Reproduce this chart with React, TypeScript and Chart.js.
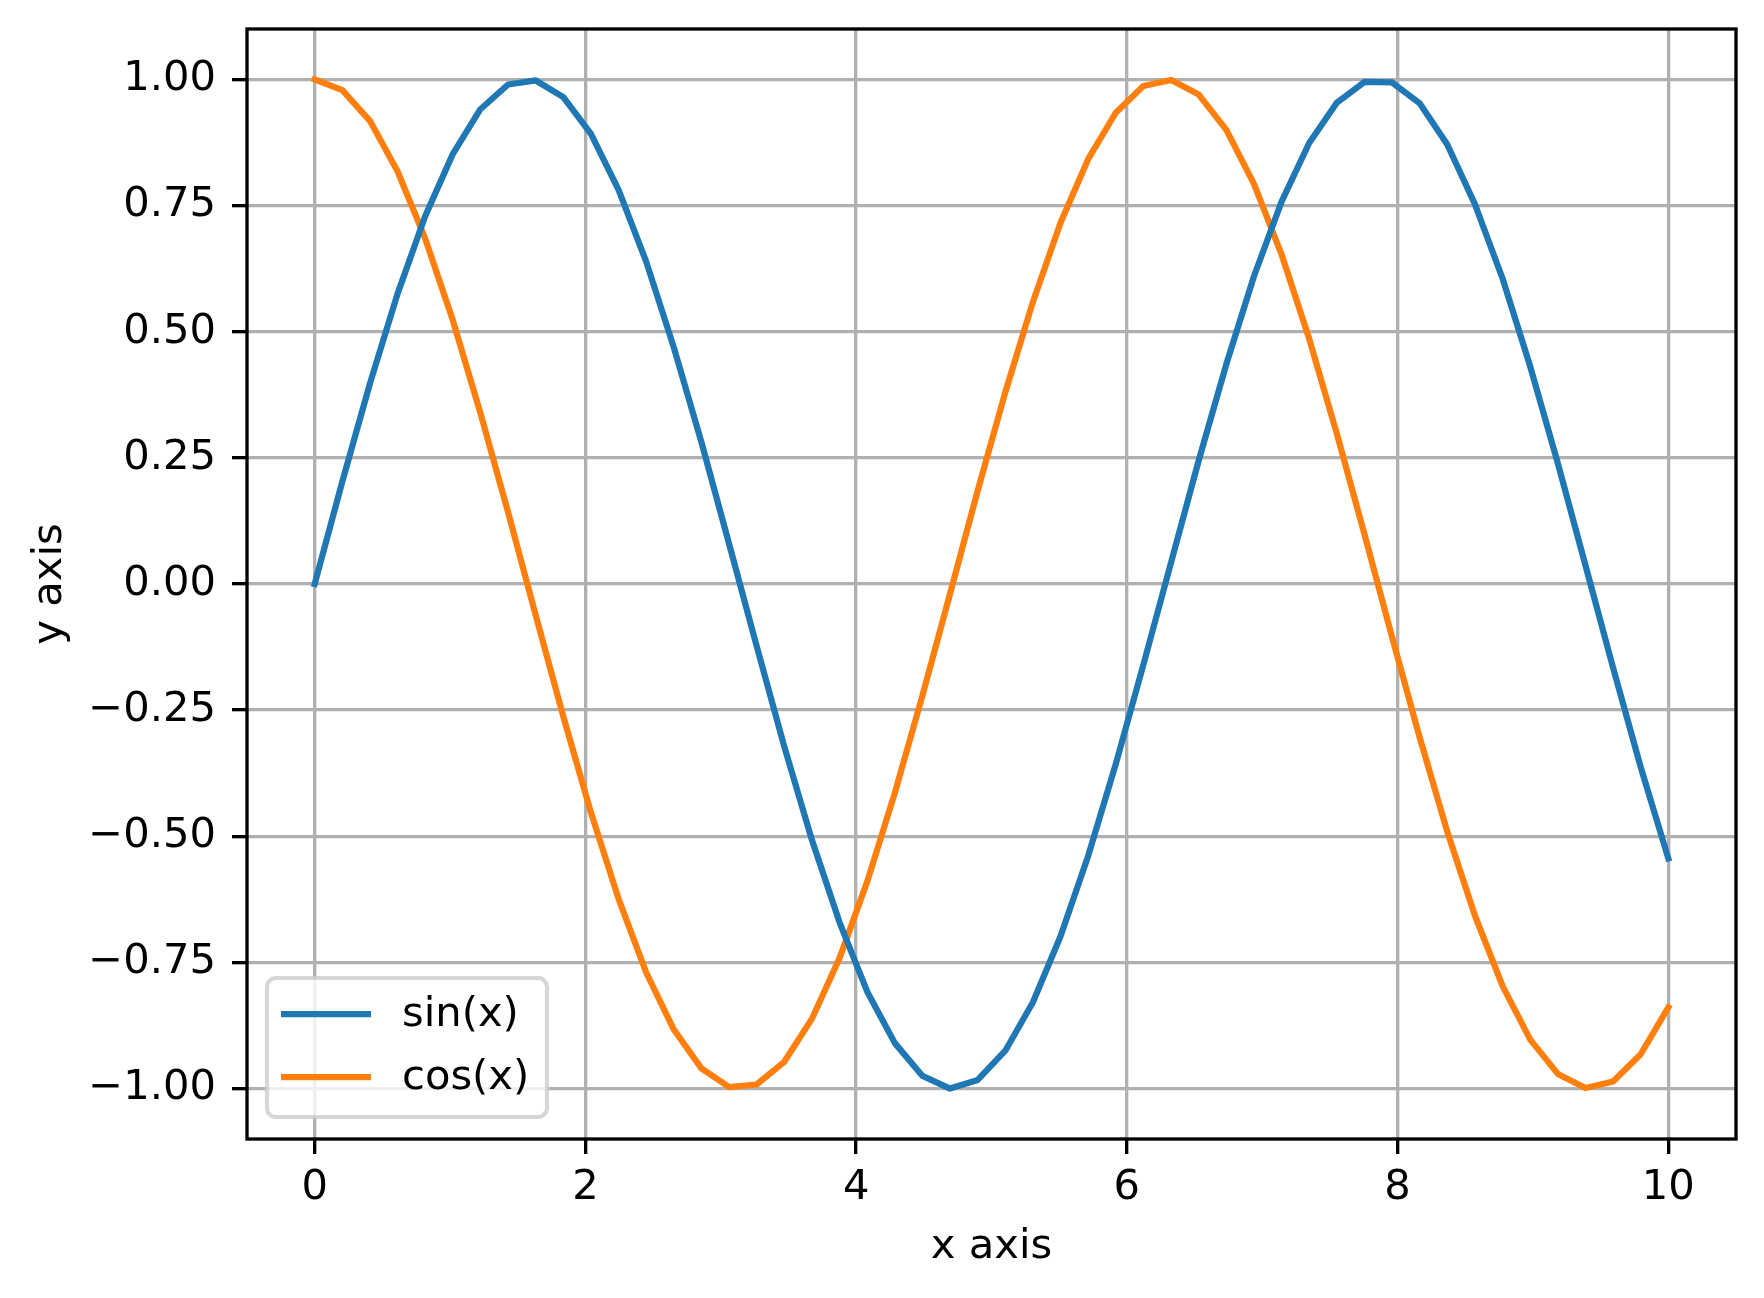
import React, { useEffect, useRef } from "react";
import { Chart, registerables } from "chart.js";

Chart.register(...registerables);

// 50 samples (x from 0 to 10)
const xValues = [
  0, 0.204, 0.408, 0.612, 0.816, 1.02, 1.224, 1.429, 1.633, 1.837, 2.041,
  2.245, 2.449, 2.653, 2.857, 3.061, 3.265, 3.469, 3.673, 3.878, 4.082, 4.286,
  4.49, 4.694, 4.898, 5.102, 5.306, 5.51, 5.714, 5.918, 6.122, 6.327, 6.531,
  6.735, 6.939, 7.143, 7.347, 7.551, 7.755, 7.959, 8.163, 8.367, 8.571, 8.776,
  8.98, 9.184, 9.388, 9.592, 9.796, 10,
];
const sinValues = [
  0, 0.203, 0.397, 0.575, 0.729, 0.852, 0.941, 0.99, 0.998, 0.965, 0.892,
  0.781, 0.639, 0.469, 0.281, 0.08, -0.123, -0.322, -0.507, -0.671, -0.808,
  -0.91, -0.975, -1.0, -0.983, -0.925, -0.829, -0.698, -0.539, -0.357, -0.16,
  0.043, 0.245, 0.436, 0.61, 0.758, 0.874, 0.954, 0.995, 0.994, 0.953, 0.871,
  0.753, 0.605, 0.431, 0.239, 0.037, -0.166, -0.363, -0.544,
];
const cosValues = [
  1, 0.979, 0.918, 0.818, 0.685, 0.523, 0.339, 0.142, -0.062, -0.263, -0.453,
  -0.624, -0.77, -0.883, -0.96, -0.997, -0.992, -0.947, -0.862, -0.741, -0.59,
  -0.414, -0.221, -0.019, 0.185, 0.38, 0.559, 0.716, 0.842, 0.934, 0.987,
  0.999, 0.97, 0.9, 0.793, 0.653, 0.486, 0.298, 0.099, -0.105, -0.304, -0.491,
  -0.657, -0.797, -0.903, -0.971, -0.999, -0.986, -0.932, -0.839,
];
const seriesLabels = ["sin(x)", "cos(x)"];
const xTicks = [0, 2, 4, 6, 8, 10];
const yTicks = [-1, -0.75, -0.5, -0.25, 0, 0.25, 0.5, 0.75, 1];

const W = 1764;
const H = 1298;
const FONT = "'DejaVu Sans', sans-serif";
const FS = 41.67;
const colors = ["#1f77b4", "#ff7f0e"];

// axes frame on all four sides, over the lines (like matplotlib spines)
const framePlugin = {
  id: "frame",
  afterDatasetsDraw(chart: any) {
    const { ctx, chartArea: a } = chart;
    ctx.save();
    ctx.strokeStyle = "#000";
    ctx.lineWidth = 3.33;
    ctx.strokeRect(a.left, a.top, a.right - a.left, a.bottom - a.top);
    ctx.restore();
  },
};

// legend in the lower-left corner of the plot area
const legendPlugin = {
  id: "innerLegend",
  afterDraw(chart: any) {
    const { ctx, chartArea: a } = chart;
    const x0 = a.left + 20;
    const y1 = a.bottom - 22;
    const w = 280;
    const h = 139;
    const y0 = y1 - h;
    ctx.save();
    ctx.beginPath();
    ctx.roundRect(x0, y0, w, h, 9);
    ctx.fillStyle = "rgba(255,255,255,0.8)";
    ctx.fill();
    ctx.lineWidth = 4.2;
    ctx.strokeStyle = "rgba(204,204,204,0.8)";
    ctx.stroke();
    ctx.font = `${FS}px ${FONT}`;
    ctx.textBaseline = "middle";
    ctx.textAlign = "left";
    chart.data.datasets.forEach((ds: any, i: number) => {
      const cy = y0 + 36 + i * 63;
      ctx.beginPath();
      ctx.moveTo(x0 + 14, cy);
      ctx.lineTo(x0 + 104, cy);
      ctx.strokeStyle = ds.borderColor;
      ctx.lineWidth = 6.25;
      ctx.stroke();
      ctx.fillStyle = "#000";
      ctx.fillText(ds.label, x0 + 135, cy + 1);
    });
    ctx.restore();
  },
};

const App = () => {
  const canvasRef = useRef<HTMLCanvasElement>(null);

  useEffect(() => {
    if (!canvasRef.current) return;

    const toPoints = (ys: number[]) => xValues.map((x, i) => ({ x, y: ys[i] }));

    const chart = new Chart(canvasRef.current, {
      type: "line",
      data: {
        datasets: [sinValues, cosValues].map((ys, i) => ({
          label: seriesLabels[i],
          data: toPoints(ys),
          borderColor: colors[i],
          backgroundColor: colors[i],
          borderWidth: 6.25,
          borderJoinStyle: "round",
          borderCapStyle: "square",
          pointRadius: 0,
          tension: 0,
          fill: false,
        })),
      },
      options: {
        animation: false,
        responsive: false,
        devicePixelRatio: 1,
        layout: { padding: { left: 0, top: 29, right: 28, bottom: 0 } },
        plugins: {
          legend: { display: false },
          tooltip: { enabled: false },
        },
        font: { family: FONT, size: FS },
        scales: {
          x: {
            type: "linear",
            min: -0.5,
            max: 10.5,
            afterBuildTicks: (scale: any) => {
              scale.ticks = xTicks.map((v) => ({ value: v }));
            },
            afterFit: (scale: any) => {
              scale.height = 159;
              scale.paddingLeft = 0;
              scale.paddingRight = 0;
            },
            grid: {
              color: "#b0b0b0",
              lineWidth: 3.33,
              tickColor: "#000",
              tickWidth: 3.33,
              tickLength: 15,
            },
            border: { display: false },
            ticks: {
              color: "#000",
              padding: 9,
              maxRotation: 0,
              font: { family: FONT, size: FS },
              callback: (v: any) => String(v),
            },
            title: {
              display: true,
              text: "x axis",
              color: "#000",
              font: { family: FONT, size: FS },
              padding: { top: 0, bottom: 26 },
            },
          },
          y: {
            type: "linear",
            min: -1.1,
            max: 1.1,
            afterBuildTicks: (scale: any) => {
              scale.ticks = yTicks.map((v) => ({ value: v }));
            },
            afterFit: (scale: any) => {
              scale.width = 247;
              scale.paddingTop = 0;
              scale.paddingBottom = 0;
            },
            grid: {
              color: "#b0b0b0",
              lineWidth: 3.33,
              tickColor: "#000",
              tickWidth: 3.33,
              tickLength: 15,
            },
            border: { display: false },
            ticks: {
              color: "#000",
              padding: 16,
              font: { family: FONT, size: FS },
              callback: (v: any) => Number(v).toFixed(2).replace("-", "\u2212"),
            },
            title: {
              display: true,
              text: "y axis",
              color: "#000",
              font: { family: FONT, size: FS },
              padding: { top: 25, bottom: 0 },
            },
          },
        },
      } as any,
      plugins: [framePlugin, legendPlugin],
    });

    return () => {
      chart.destroy();
    };
  }, []);

  return (
    <div style={{ position: "absolute", left: 0, top: 0, width: W, height: H, background: "#fff" }}>
      <canvas ref={canvasRef} width={W} height={H}></canvas>
    </div>
  );
};

export default App;
